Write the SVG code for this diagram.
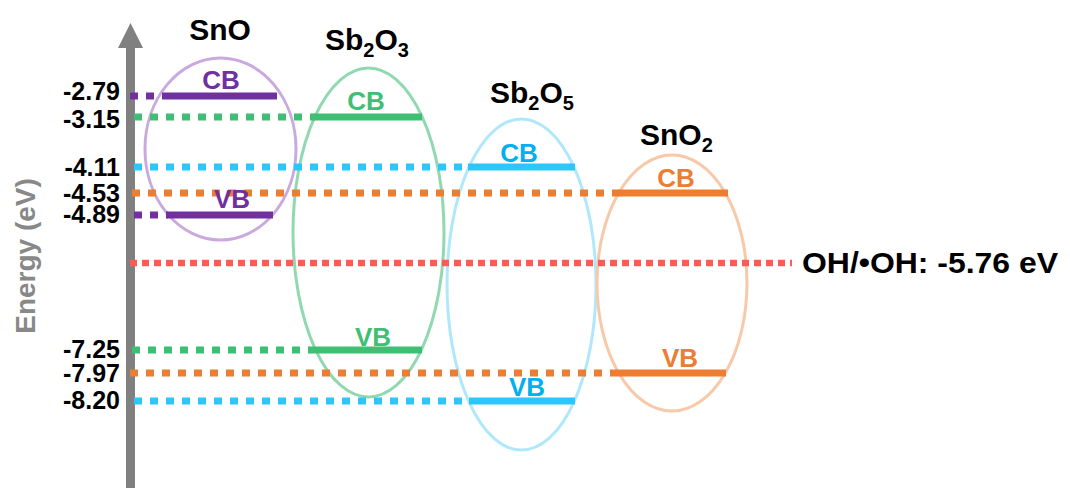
<svg xmlns="http://www.w3.org/2000/svg" width="1070" height="488" viewBox="0 0 1070 488">
<style>
.t{font-family:"Liberation Sans",Arial,sans-serif;font-weight:bold}
.title{font-size:30px;fill:#000}
.val{font-size:25px;fill:#000;text-anchor:end}
.band{font-size:26px;text-anchor:middle}
.d{stroke-width:7;stroke-dasharray:8 8;fill:none}
.s{stroke-width:7;fill:none}
.ell{fill:none;stroke-width:3}
</style>
<rect width="1070" height="488" fill="#fff"/>
<g id="axis">
<rect x="126" y="46" width="9" height="442" fill="#808080"/>
<polygon points="130.5,23 143,48 118,48" fill="#808080"/>
<text class="t" x="35" y="256" transform="rotate(-90 35 256)" text-anchor="middle" font-size="28" fill="#888">Energy (eV)</text>
</g>
<g id="ellipses">
<ellipse id="SnO-ellipse" class="ell" cx="220.5" cy="149" rx="75.5" ry="91" stroke="#c9a9de"/>
<ellipse id="Sb2O3-ellipse" class="ell" cx="368.5" cy="232.5" rx="75.5" ry="164.5" stroke="#90d9b0"/>
<ellipse id="Sb2O5-ellipse" class="ell" cx="521.5" cy="284.5" rx="74.5" ry="165.5" stroke="#b0e8fb"/>
<ellipse id="SnO2-ellipse" class="ell" cx="672" cy="283" rx="75" ry="128" stroke="#f7c9a8"/>
</g>
<g id="connectors">
<line class="d" x1="130" y1="96" x2="172" y2="96" stroke="#7030a0"/>
<line class="d" x1="134" y1="117" x2="314" y2="117" stroke="#3fbf74"/>
<line class="d" x1="134" y1="167" x2="469" y2="167" stroke="#2bc6fb"/>
<line class="d" x1="132" y1="193" x2="619" y2="193" stroke="#ed7d31"/>
<line class="d" x1="134" y1="215" x2="168" y2="215" stroke="#7030a0"/>
<line x1="130" y1="263" x2="792" y2="263" stroke="#ff5a5a" stroke-width="6.5" stroke-dasharray="7 5"/>
<line class="d" x1="132" y1="350" x2="310" y2="350" stroke="#3fbf74"/>
<line class="d" x1="130" y1="373" x2="615" y2="373" stroke="#ed7d31"/>
<line class="d" x1="134" y1="401" x2="469" y2="401" stroke="#2bc6fb"/>
</g>
<g id="SnO">
<text class="t title" x="220" y="40" text-anchor="middle">SnO</text>
<line class="s" x1="170" y1="96" x2="277" y2="96" stroke="#7030a0"/>
<line class="s" x1="167" y1="215" x2="273" y2="215" stroke="#7030a0"/>
<text class="t band" x="221" y="89" fill="#7030a0">CB</text>
<text class="t band" x="232" y="208" fill="#7030a0">VB</text>
</g>
<g id="Sb2O3">
<text class="t title" x="325" y="50">Sb<tspan font-size="20" dy="7">2</tspan><tspan dy="-7">O</tspan><tspan font-size="20" dy="7">3</tspan></text>
<line class="s" x1="313" y1="117" x2="422" y2="117" stroke="#3fbf74"/>
<line class="s" x1="309" y1="350" x2="422" y2="350" stroke="#3fbf74"/>
<text class="t band" x="366" y="110" fill="#3fbf74">CB</text>
<text class="t band" x="373" y="346" fill="#3fbf74">VB</text>
</g>
<g id="Sb2O5">
<text class="t title" x="490" y="103">Sb<tspan font-size="20" dy="7">2</tspan><tspan dy="-7">O</tspan><tspan font-size="20" dy="7">5</tspan></text>
<line class="s" x1="468" y1="167" x2="575" y2="167" stroke="#2bc6fb"/>
<line class="s" x1="469" y1="401" x2="575" y2="401" stroke="#2bc6fb"/>
<text class="t band" x="519" y="162" fill="#00b0f0">CB</text>
<text class="t band" x="527" y="396" fill="#00b0f0">VB</text>
</g>
<g id="SnO2">
<text class="t title" x="640" y="145">SnO<tspan font-size="20" dy="7">2</tspan></text>
<line class="s" x1="618" y1="193" x2="728" y2="193" stroke="#ed7d31"/>
<line class="s" x1="615" y1="373" x2="726" y2="373" stroke="#ed7d31"/>
<text class="t band" x="676" y="187" fill="#ed7d31">CB</text>
<text class="t band" x="680" y="367" fill="#ed7d31">VB</text>
</g>
<g id="values">
<text class="t val" x="120" y="100">-2.79</text>
<text class="t val" x="120" y="128">-3.15</text>
<text class="t val" x="120" y="176">-4.11</text>
<text class="t val" x="120" y="202">-4.53</text>
<text class="t val" x="120" y="223">-4.89</text>
<text class="t val" x="120" y="358">-7.25</text>
<text class="t val" x="120" y="382">-7.97</text>
<text class="t val" x="120" y="409">-8.20</text>
</g>
<g id="OH-level">
<text class="t" x="802" y="273" font-size="30" fill="#000" textLength="256" lengthAdjust="spacingAndGlyphs">OH/•OH: -5.76 eV</text>
</g>
</svg>
